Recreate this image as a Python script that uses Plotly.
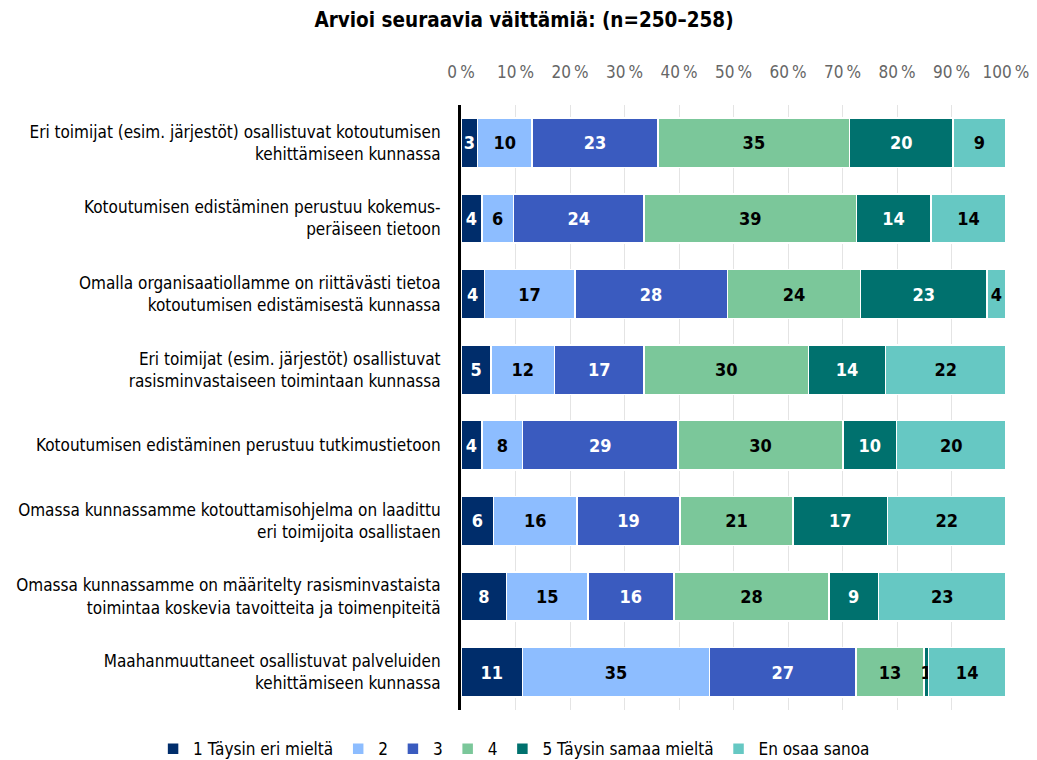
import plotly.graph_objects as go

categories = [
    "Eri toimijat (esim. järjestöt) osallistuvat kotoutumisen<br>kehittämiseen kunnassa",
    "Kotoutumisen edistäminen perustuu kokemus-<br>peräiseen tietoon",
    "Omalla organisaatiollamme on riittävästi tietoa<br>kotoutumisen edistämisestä kunnassa",
    "Eri toimijat (esim. järjestöt) osallistuvat<br>rasisminvastaiseen toimintaan kunnassa",
    "Kotoutumisen edistäminen perustuu tutkimustietoon",
    "Omassa kunnassamme kotouttamisohjelma on laadittu<br>eri toimijoita osallistaen",
    "Omassa kunnassamme on määritelty rasisminvastaista<br>toimintaa koskevia tavoitteita ja toimenpiteitä",
    "Maahanmuuttaneet osallistuvat palveluiden<br>kehittämiseen kunnassa",
]

series_names = ["1 Täysin eri mieltä", "2", "3", "4", "5 Täysin samaa mieltä", "En osaa sanoa"]

# bar widths (%)
values = [
    [3.07, 3.82, 4.28, 5.54, 3.85, 5.97, 8.37, 11.30],
    [9.92, 5.82, 16.61, 11.58, 7.45, 15.28, 14.90, 34.28],
    [23.19, 23.97, 27.97, 16.49, 28.52, 18.96, 15.77, 26.92],
    [35.12, 38.93, 24.46, 30.15, 30.25, 20.68, 28.49, 12.46],
    [18.96, 13.66, 23.15, 14.14, 9.88, 17.37, 9.07, 0.78],
    [9.74, 13.80, 3.53, 22.10, 20.05, 21.74, 23.40, 14.26],
]

# data labels as printed on the bars
labels = [
    [3, 4, 4, 5, 4, 6, 8, 11],
    [10, 6, 17, 12, 8, 16, 15, 35],
    [23, 24, 28, 17, 29, 19, 16, 27],
    [35, 39, 24, 30, 30, 21, 28, 13],
    [20, 14, 23, 14, 10, 17, 9, 1],
    [9, 14, 4, 22, 20, 22, 23, 14],
]

tick_vals = [0, 10, 20, 30, 40, 50, 60, 70, 80, 90, 100]
tick_text = [f"{v}\u2009%" for v in tick_vals]

colors = ["#002d6b", "#8dbdff", "#3a5bbf", "#7bc79a", "#00716e", "#66c8c3"]
text_colors = ["white", "black", "white", "black", "white", "black"]

FONT = "Liberation Sans Narrow, Arial Narrow, DejaVu Sans Condensed, sans-serif"

fig = go.Figure()
for i, name in enumerate(series_names):
    tc = [text_colors[i]] * len(categories)
    if i == 4:
        tc[-1] = "black"
    fig.add_trace(go.Bar(
        y=categories,
        x=values[i],
        name=name,
        orientation="h",
        marker=dict(color=colors[i], line=dict(color="white", width=1.5)),
        text=[str(v) for v in labels[i]],
        textposition="inside",
        insidetextanchor="middle",
        textfont=dict(family=FONT, size=18, color=tc, weight="bold"),
        hoverinfo="skip",
    ))

fig.update_layout(
    barmode="stack",
    bargap=0.35,
    width=1037,
    height=760,
    paper_bgcolor="white",
    plot_bgcolor="white",
    font=dict(family=FONT, size=17, color="black"),
    margin=dict(l=453, r=39, t=97, b=58, autoexpand=False),
    title=dict(
        text="<b>Arvioi seuraavia väittämiä: (n=250–258)</b>",
        x=0.4976, xref="container", xanchor="center",
        y=0.984, yref="container", yanchor="middle",
        pad=dict(t=0, b=0),
        font=dict(family=FONT, size=20.5, color="black"),
    ),
    uniformtext=dict(minsize=18, mode="show"),
    legend=dict(
        orientation="h",
        x=-0.565, xref="paper", xanchor="left",
        y=-0.035, yref="paper", yanchor="top",
        font=dict(family=FONT, size=17, color="black"),
        traceorder="normal",
    ),
    xaxis=dict(
        side="top",
        range=[0, 100],
        tickvals=tick_vals,
        ticktext=tick_text,
        tickfont=dict(family=FONT, size=17, color="#666666"),
        showgrid=True,
        gridcolor="#e4e4e4",
        gridwidth=1,
        zeroline=False,
        showline=False,
        ticks="outside",
        ticklen=19,
        tickcolor="rgba(0,0,0,0)",
        automargin=False,
        fixedrange=True,
    ),
    yaxis=dict(
        autorange="reversed",
        showline=True,
        linecolor="black",
        linewidth=3,
        ticks="outside",
        ticklen=14,
        tickcolor="rgba(0,0,0,0)",
        tickfont=dict(family=FONT, size=17, color="black"),
        showgrid=False,
        automargin=False,
    ),
)

fig.write_html("out.html")
